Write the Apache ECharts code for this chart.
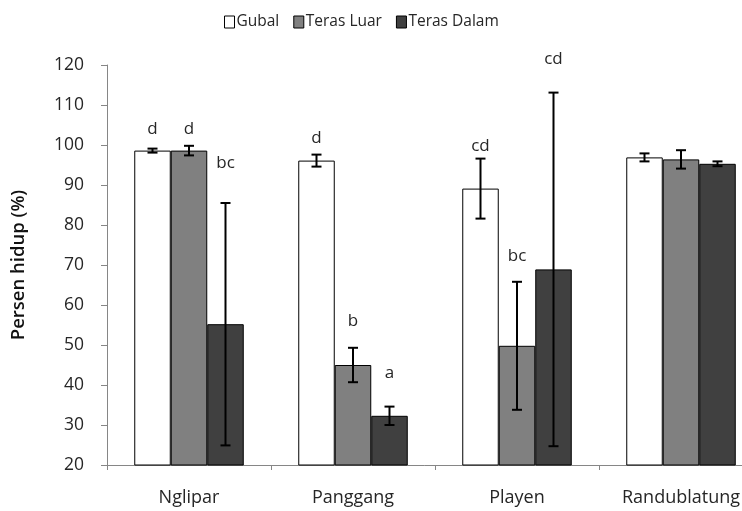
<!DOCTYPE html>
<html><head><meta charset="utf-8">
<script src="https://cdn.jsdelivr.net/npm/echarts@6/dist/echarts.min.js"></script>
<style>html,body{margin:0;padding:0;background:#fff;overflow:hidden}#c{width:742px;height:511px}</style>
</head><body><div id="c"></div>
<script>
const categories = ['Nglipar', 'Panggang', 'Playen', 'Randublatung'];
const seriesNames = ['Gubal', 'Teras Luar', 'Teras Dalam'];
const gubal = [98.6, 96.1, 89.1, 96.9];
const gubalErr = [0.5, 1.5, 7.5, 1.0];
const terasLuar = [98.6, 45.0, 49.8, 96.4];
const terasLuarErr = [1.2, 4.3, 16.0, 2.3];
const terasDalam = [55.2, 32.3, 68.9, 95.3];
const terasDalamErr = [30.3, 2.3, 44.2, 0.6];
const gubalLetters = ['d', 'd', 'cd', ''];
const terasLuarLetters = ['d', 'b', 'bc', ''];
const terasDalamLetters = ['bc', 'a', 'cd', ''];
// vertical anchor of each letter, in axis units
const gubalLetterAt = [104, 101.8, 99.6, null];
const terasLuarLetterAt = [104, 56, 72.1, null];
const terasDalamLetterAt = [95.5, 43, 121.4, null];
const yTicks = [20, 120, 10];

const FONT = '"Open Sans", Lato, sans-serif';
const BAR_W = 36.5;
const colors = ['#ffffff', '#808080', '#404040'];
const values = [gubal, terasLuar, terasDalam];
const errs = [gubalErr, terasLuarErr, terasDalamErr];
const letters = [gubalLetters, terasLuarLetters, terasDalamLetters];
const letterAt = [gubalLetterAt, terasLuarLetterAt, terasDalamLetterAt];

const series = [];
seriesNames.forEach((name, s) => {
  series.push({
    name: name, type: 'bar', data: values[s], barWidth: BAR_W, barGap: '0%',
    itemStyle: { color: colors[s], borderColor: '#000', borderWidth: 1 },
    emphasis: { disabled: true }, animation: false
  });
});
seriesNames.forEach((name, s) => {
  const d = categories.map((c, i) => [i, values[s][i], errs[s][i], letterAt[s][i] == null ? NaN : letterAt[s][i], letters[s][i]]);
  series.push({
    type: 'custom', data: d, encode: { x: 0, y: 1 }, clip: false, z: 5, silent: true, animation: false,
    renderItem: function (params, api) {
      const cat = api.value(0), v = api.value(1), e = api.value(2), la = api.value(3);
      const txt = d[params.dataIndex][4];
      const off = (s - 1) * BAR_W;
      const top = api.coord([cat, v + e]);
      const bot = api.coord([cat, v - e]);
      const x = top[0] + off;
      const st = { stroke: '#000', lineWidth: 2 };
      const cap = 5;
      const ch = [
        { type: 'line', shape: { x1: x, y1: top[1], x2: x, y2: bot[1] }, style: st },
        { type: 'line', shape: { x1: x - cap, y1: top[1], x2: x + cap, y2: top[1] }, style: st },
        { type: 'line', shape: { x1: x - cap, y1: bot[1], x2: x + cap, y2: bot[1] }, style: st }
      ];
      if (txt && !isNaN(la)) {
        const p = api.coord([cat, la]);
        ch.push({ type: 'text', style: { text: txt, x: p[0] + off, y: p[1], align: 'center', verticalAlign: 'middle', fill: '#262626', font: '17px ' + FONT } });
      }
      return { type: 'group', children: ch };
    }
  });
});

const chart = echarts.init(document.getElementById('c'), null, { renderer: 'canvas' });
chart.setOption({
  animation: false,
  textStyle: { fontFamily: FONT },
  legend: {
    data: seriesNames, top: 9, left: 219, icon: 'rect', itemWidth: 10, itemHeight: 12, itemGap: 14,
    itemStyle: { borderColor: '#000', borderWidth: 1 },
    textStyle: { fontSize: 15.5, color: '#262626', fontFamily: FONT, padding: [0, 0, 0, -3] }
  },
  grid: { left: 107, top: 65, width: 656, height: 400, containLabel: false, outerBoundsMode: 'none' },
  xAxis: {
    type: 'category', data: categories,
    axisLine: { lineStyle: { color: '#868686' } },
    axisTick: { show: true, length: 5, lineStyle: { color: '#868686' } },
    axisLabel: { fontSize: 18, color: '#262626', margin: 24, fontFamily: FONT }
  },
  yAxis: {
    type: 'value', min: yTicks[0], max: yTicks[1], interval: yTicks[2],
    name: 'Persen hidup (%)', nameLocation: 'middle', nameGap: 79, nameRotate: 90,
    nameTextStyle: { fontSize: 18.5, fontWeight: 600, color: '#111', fontFamily: FONT },
    splitLine: { show: false },
    axisLine: { show: true, lineStyle: { color: '#868686' } },
    axisTick: { show: true, length: 6, lineStyle: { color: '#868686' } },
    axisLabel: { fontSize: 17.5, color: '#262626', margin: 23, fontFamily: FONT }
  },
  series: series
});
</script></body></html>
